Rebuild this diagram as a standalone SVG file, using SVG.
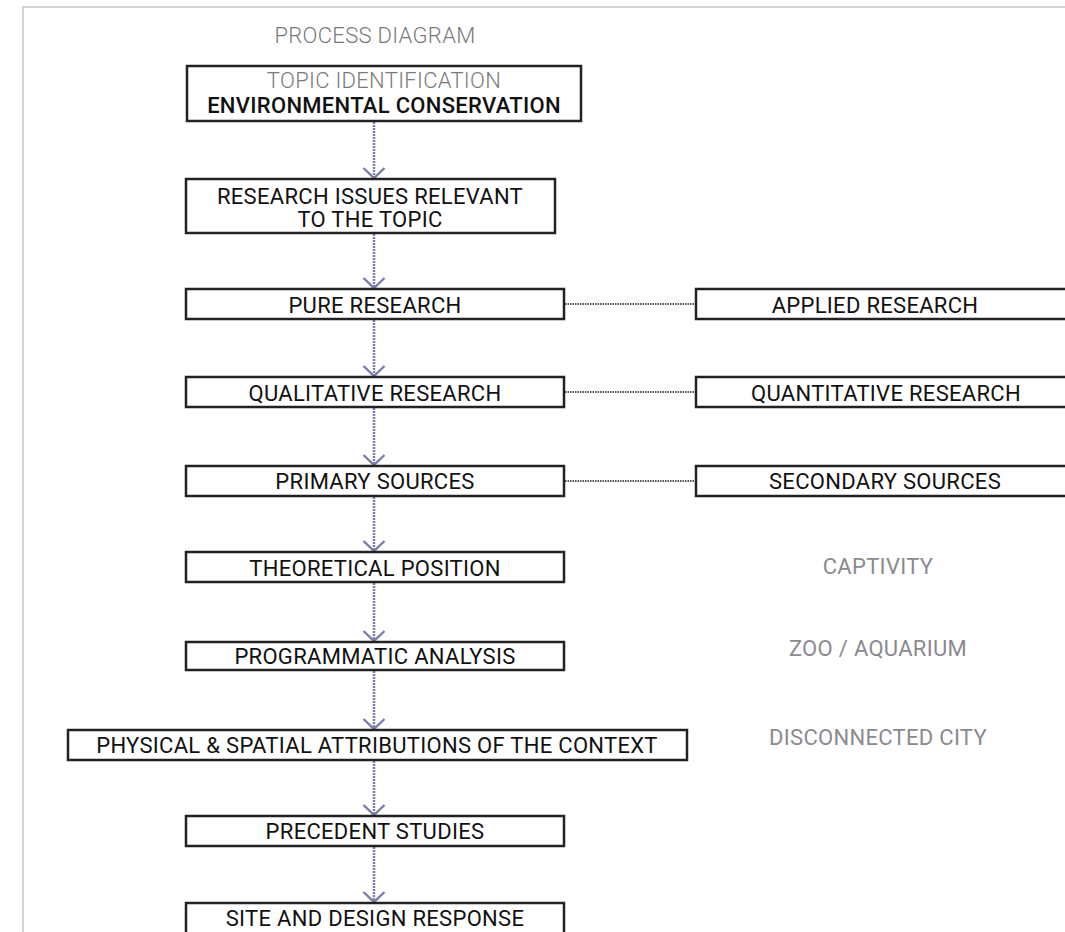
<svg xmlns="http://www.w3.org/2000/svg" width="1065" height="932" viewBox="0 0 1065 932">
<defs>
<style>
.box{fill:#fff;stroke:#222;stroke-width:2.5}
.t{font-family:Roboto,"Liberation Sans",sans-serif;font-size:22px;letter-spacing:0.3px;fill:#111;text-anchor:middle;dominant-baseline:central}
.g{font-family:Roboto,"Liberation Sans",sans-serif;font-size:22px;letter-spacing:0.3px;fill:#8a8a8f;text-anchor:middle;dominant-baseline:central}
.lt{font-weight:300;fill:#7a7a7a}
.flow{stroke:#7c7caa;stroke-width:2.5;stroke-dasharray:2 1;fill:none}
.link{stroke:#555;stroke-width:2;stroke-dasharray:1.5 1;fill:none}
</style>
<marker id="ah" viewBox="0 0 12 24" refX="11" refY="12" markerWidth="12" markerHeight="24" markerUnits="userSpaceOnUse" orient="auto" overflow="visible">
<path d="M1,1.5 L11,12 L1,22.5" fill="none" stroke="#7c7caa" stroke-width="2.4"/>
</marker>
</defs>
<rect width="1065" height="932" fill="#fff"/>
<path d="M23,940 V7 H1070" fill="none" stroke="#d4d4d4" stroke-width="2"/>
<text class="g lt" x="375" y="35">PROCESS DIAGRAM</text>
<g id="connectors">
<line class="flow" x1="374" y1="122" x2="374" y2="178" marker-end="url(#ah)"/>
<line class="flow" x1="374" y1="234" x2="374" y2="288" marker-end="url(#ah)"/>
<line class="flow" x1="374" y1="320" x2="374" y2="376" marker-end="url(#ah)"/>
<line class="flow" x1="374" y1="408" x2="374" y2="465" marker-end="url(#ah)"/>
<line class="flow" x1="374" y1="497" x2="374" y2="551" marker-end="url(#ah)"/>
<line class="flow" x1="374" y1="583" x2="374" y2="641" marker-end="url(#ah)"/>
<line class="flow" x1="374" y1="671" x2="374" y2="729" marker-end="url(#ah)"/>
<line class="flow" x1="374" y1="761" x2="374" y2="815" marker-end="url(#ah)"/>
<line class="flow" x1="374" y1="847" x2="374" y2="902" marker-end="url(#ah)"/>
<line class="link" x1="565" y1="304" x2="697" y2="304"/>
<line class="link" x1="565" y1="392" x2="697" y2="392"/>
<line class="link" x1="565" y1="481" x2="697" y2="481"/>
</g>
<g id="topic"><rect class="box" x="187" y="66" width="394" height="55"/><text class="g lt" x="384" y="80">TOPIC IDENTIFICATION</text><text class="t" x="384" y="105" font-weight="500">ENVIRONMENTAL CONSERVATION</text></g>
<g id="issues"><rect class="box" x="186" y="179" width="369" height="54"/><text class="t" x="370" y="196">RESEARCH ISSUES RELEVANT</text><text class="t" x="370" y="219">TO THE TOPIC</text></g>
<g id="pure"><rect class="box" x="186" y="289" width="378" height="30"/><text class="t" x="375" y="305">PURE RESEARCH</text></g>
<g id="applied"><rect class="box" x="696" y="289" width="400" height="30"/><text class="t" x="875" y="305">APPLIED RESEARCH</text></g>
<g id="qualitative"><rect class="box" x="186" y="377" width="378" height="30"/><text class="t" x="375" y="393">QUALITATIVE RESEARCH</text></g>
<g id="quantitative"><rect class="box" x="696" y="377" width="400" height="30"/><text class="t" x="886" y="393">QUANTITATIVE RESEARCH</text></g>
<g id="primary"><rect class="box" x="186" y="466" width="378" height="30"/><text class="t" x="375" y="481">PRIMARY SOURCES</text></g>
<g id="secondary"><rect class="box" x="696" y="466" width="400" height="30"/><text class="t" x="885" y="481">SECONDARY SOURCES</text></g>
<g id="theoretical"><rect class="box" x="186" y="552" width="378" height="30"/><text class="t" x="375" y="568">THEORETICAL POSITION</text></g>
<g id="programmatic"><rect class="box" x="186" y="642" width="378" height="28"/><text class="t" x="375" y="656">PROGRAMMATIC ANALYSIS</text></g>
<g id="physical"><rect class="box" x="68" y="730" width="619" height="30"/><text class="t" x="377" y="745">PHYSICAL &amp; SPATIAL ATTRIBUTIONS OF THE CONTEXT</text></g>
<g id="precedent"><rect class="box" x="186" y="816" width="378" height="30"/><text class="t" x="375" y="831">PRECEDENT STUDIES</text></g>
<g id="site"><rect class="box" x="186" y="903" width="378" height="40"/><text class="t" x="375" y="918">SITE AND DESIGN RESPONSE</text></g>
<g id="captivity"><text class="g" x="878" y="566">CAPTIVITY</text></g>
<g id="zoo"><text class="g" x="878" y="648">ZOO / AQUARIUM</text></g>
<g id="city"><text class="g" x="878" y="737">DISCONNECTED CITY</text></g>
</svg>
